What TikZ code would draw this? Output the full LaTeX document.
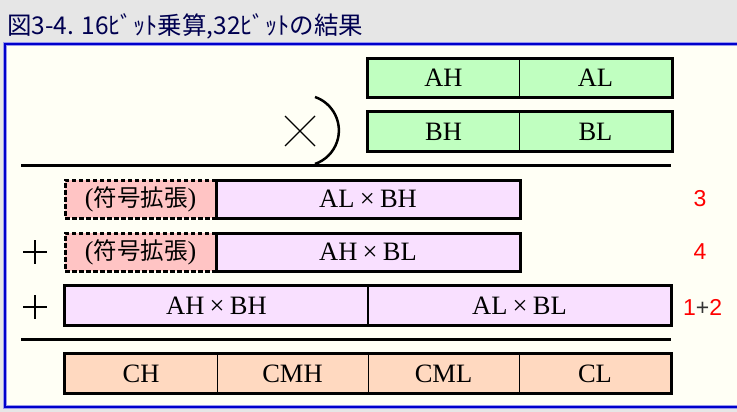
\documentclass[tikz,border=0pt]{standalone}
\usepackage{fontspec}
\setmainfont{Liberation Serif}
\newfontfamily\jp{Noto Sans CJK JP}
\newfontfamily\lsans{Liberation Sans}
\definecolor{titlebg}{HTML}{E6E6E6}
\definecolor{panelbg}{HTML}{FFFFF5}
\definecolor{panelblue}{HTML}{0000CC}
\definecolor{panelhalo}{HTML}{9999EE}
\definecolor{titlecol}{HTML}{000050}
\definecolor{greenc}{HTML}{C0FFC0}
\definecolor{violetc}{HTML}{F9E0FF}
\definecolor{pinkc}{HTML}{FFC4C4}
\definecolor{peachc}{HTML}{FFD9C0}
\definecolor{numred}{HTML}{FF0000}
\tikzset{
  x=1pt, y=-1pt,
  cell/.style={draw=black, line width=1pt, inner sep=0pt, font=\fontsize{26.5}{26.5}\selectfont},
  outer/.style={draw=black, line width=3pt},
  extbox/.style={draw=black, line width=3pt, dash pattern=on 4.5pt off 2.5pt, fill=pinkc, inner sep=0pt,
     minimum width=151pt, minimum height=38pt},
  rednum/.style={text=numred, font=\lsans\fontsize{23}{23}\selectfont, inner sep=0pt},
  bar/.style={line width=3pt},
  opline/.style={line width=1.3pt}
}
\newcommand{\tms}{\hspace{0.2em}×\hspace{0.2em}}
\newcommand{\ext}{{\fontsize{26}{26}\selectfont(}{\jp\fontsize{23.5}{23.5}\selectfont 符号拡張}{\fontsize{26}{26}\selectfont)}}
\begin{document}
\begin{tikzpicture}
\useasboundingbox (0,0) rectangle (737,412);
\fill[titlebg] (0,0) rectangle (737,412);
% panel
\draw[panelhalo, line width=3.5pt, fill=panelbg] (5,44) rectangle (745,407);
\draw[panelblue, line width=1.8pt] (5,44) rectangle (745,407);
% title
\node[anchor=west, inner sep=0pt, text=titlecol, font=\jp\fontsize{24.5}{24.5}\selectfont] (title) at (7,26) {図3-4. 16ﾋﾞｯﾄ乗算,32ﾋﾞｯﾄの結果};

% row A
\node[cell, fill=greenc, minimum width=151pt, minimum height=38pt] (ah) at (443.5,78) {AH};
\node[cell, fill=greenc, minimum width=153pt, minimum height=38pt] (al) at (595.5,78) {AL};
\draw[outer] (ah.north west) rectangle (al.south east);
% row B
\node[cell, fill=greenc, minimum width=151pt, minimum height=39pt] (bh) at (443.5,131.5) {BH};
\node[cell, fill=greenc, minimum width=153pt, minimum height=39pt] (bl) at (595.5,131.5) {BL};
\draw[outer] (bh.north west) rectangle (bl.south east);

% multiply sign and bracket
\coordinate (xa) at (285,116); \coordinate (xb) at (315,146);
\coordinate (xc) at (285,146); \coordinate (xd) at (315,116);
\draw[opline] (xa) -- (xb) (xc) -- (xd);
\coordinate (arcstart) at (315,97);
\draw[line width=2.5pt] (arcstart) arc[start angle=-71, end angle=71, radius=35.4];

% first bar
\coordinate (b1l) at (21,165); \coordinate (b1r) at (671,165);
\draw[bar] (b1l) -- (b1r);

% row 3
\node[extbox] (ext1) at (140.5,199) {\ext};
\node[cell, fill=violetc, line width=3pt, minimum width=304pt, minimum height=38pt] (albh) at (368,199) {AL\tms BH};
\node[rednum] (n3) at (700,199) {3};

% row 4
\coordinate (p1a) at (23,252); \coordinate (p1b) at (47,252);
\coordinate (p1c) at (35,240); \coordinate (p1d) at (35,264);
\draw[opline] (p1a) -- (p1b) (p1c) -- (p1d);
\node[extbox] (ext2) at (140.5,252) {\ext};
\node[cell, fill=violetc, line width=3pt, minimum width=304pt, minimum height=38pt] (ahbl) at (368,252) {AH\tms BL};
\node[rednum] (n4) at (700,252) {4};

% row 5
\coordinate (p2a) at (23,307); \coordinate (p2b) at (47,307);
\coordinate (p2c) at (35,295); \coordinate (p2d) at (35,319);
\draw[opline] (p2a) -- (p2b) (p2c) -- (p2d);
\node[cell, fill=violetc, line width=1.5pt, minimum width=303pt, minimum height=39pt] (ahbh) at (216.5,305.5) {AH\tms BH};
\node[cell, fill=violetc, line width=1.5pt, minimum width=303pt, minimum height=39pt] (albl) at (519.5,305.5) {AL\tms BL};
\draw[outer] (ahbh.north west) rectangle (albl.south east);
\node[rednum, anchor=west] (n12) at (683,307) {1\textcolor{black!80}{+}2};

% second bar
\coordinate (b2l) at (21,339); \coordinate (b2r) at (671,339);
\draw[bar] (b2l) -- (b2r);

% row 6
\node[cell, fill=peachc, minimum width=152pt, minimum height=39pt] (ch) at (141,373.5) {CH};
\node[cell, fill=peachc, minimum width=151pt, minimum height=39pt] (cmh) at (292.5,373.5) {CMH};
\node[cell, fill=peachc, minimum width=151pt, minimum height=39pt] (cml) at (443.5,373.5) {CML};
\node[cell, fill=peachc, minimum width=152pt, minimum height=39pt] (cl) at (595,373.5) {CL};
\draw[outer] (ch.north west) rectangle (cl.south east);
\end{tikzpicture}
\end{document}
